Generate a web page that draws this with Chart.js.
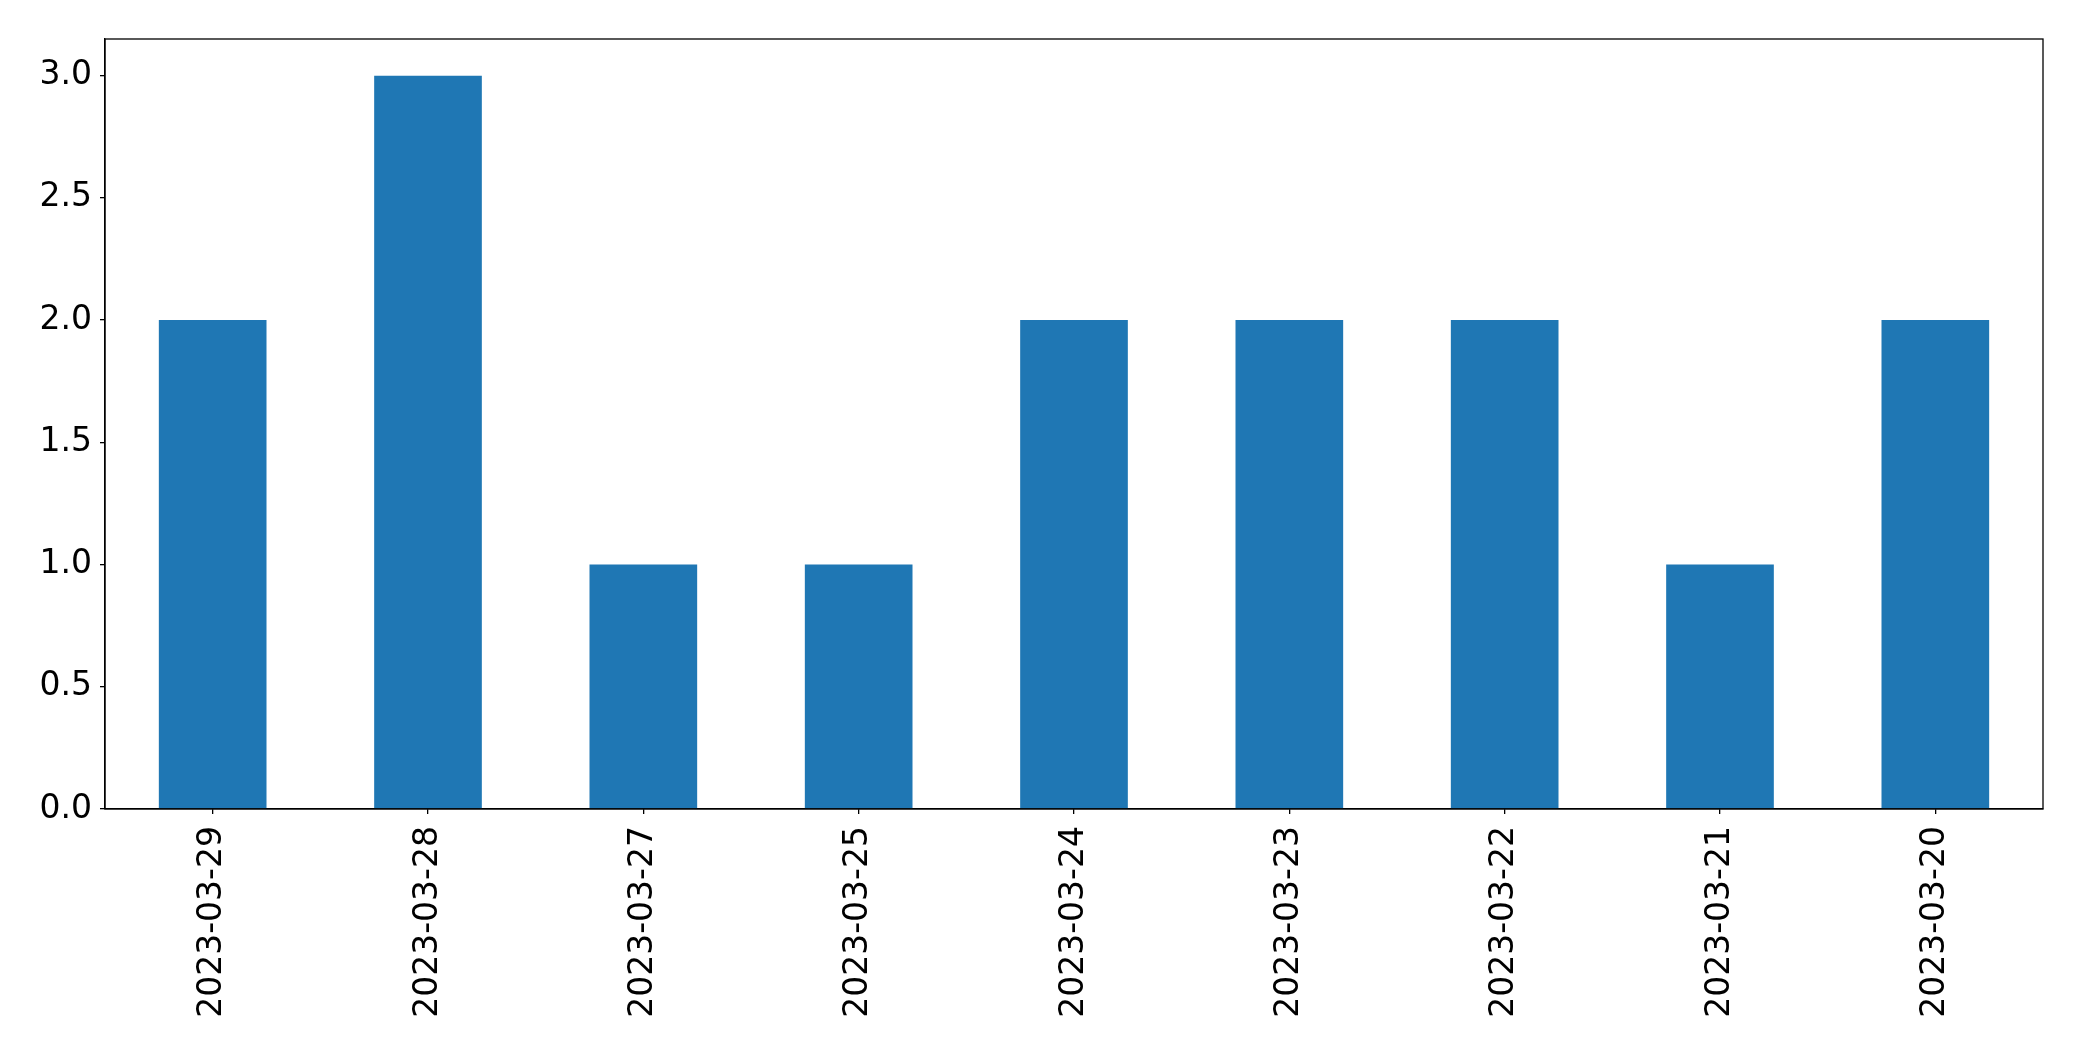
<!DOCTYPE html>
<html>
<head>
<meta charset="utf-8">
<script src="https://cdn.jsdelivr.net/npm/chart.js@4/dist/chart.umd.min.js"></script>
<style>
  html, body { margin: 0; padding: 0; background: #fff; }
  #wrap { width: 2082px; height: 1061px; }
</style>
</head>
<body>
<div id="wrap"><canvas id="chart"></canvas></div>
<script>
// data
const dates = ['2023-03-29', '2023-03-28', '2023-03-27', '2023-03-25', '2023-03-24',
               '2023-03-23', '2023-03-22', '2023-03-21', '2023-03-20'];
const counts = [2, 3, 1, 1, 2, 2, 2, 1, 2];
const yTicks = [0, 0.5, 1, 1.5, 2, 2.5, 3];

Chart.defaults.font.family = "'DejaVu Sans', sans-serif";
Chart.defaults.color = '#000';

// full black frame round the plot area
const frame = {
    id: 'frame',
    afterDraw(chart) {
        const { ctx, chartArea: a } = chart;
        ctx.save();
        ctx.strokeStyle = '#000';
        ctx.lineWidth = 1.3;
        ctx.strokeRect(a.left, a.top, a.right - a.left, a.bottom - a.top);
        ctx.restore();
    }
};

new Chart(document.getElementById('chart'), {
    type: 'bar',
    data: {
        labels: dates,
        datasets: [{
            data: counts,
            backgroundColor: '#1f77b4',
            borderWidth: 0,
            barPercentage: 0.5,
            categoryPercentage: 1.0
        }]
    },
    options: {
        responsive: true,
        maintainAspectRatio: false,
        animation: false,
        layout: { padding: { top: 39, right: 39, left: 0, bottom: 0 } },
        plugins: { legend: { display: false }, tooltip: { enabled: false } },
        scales: {
            x: {
                offset: true,
                grid: { display: true, drawOnChartArea: false, drawTicks: true, tickLength: 5, color: '#000', lineWidth: 1.3, offset: false },
                border: { display: true, color: '#000', width: 1.3 },
                ticks: { font: { size: 33 }, color: '#000', minRotation: 90, maxRotation: 90, padding: 12, autoSkip: false },
                afterFit: s => { s.height = 252; }
            },
            y: {
                min: 0,
                max: 3.15,
                grid: { display: true, drawOnChartArea: false, drawTicks: true, tickLength: 5, color: '#000', lineWidth: 1.3 },
                border: { display: true, color: '#000', width: 1.3 },
                ticks: { font: { size: 33 }, color: '#000', stepSize: 0.5, includeBounds: false, padding: 8,
                         callback: v => Number(v).toFixed(1) },
                afterBuildTicks: s => { s.ticks = yTicks.map(v => ({ value: v })); },
                afterFit: s => { s.width = 105; }
            }
        }
    },
    plugins: [frame]
});
</script>
</body>
</html>
